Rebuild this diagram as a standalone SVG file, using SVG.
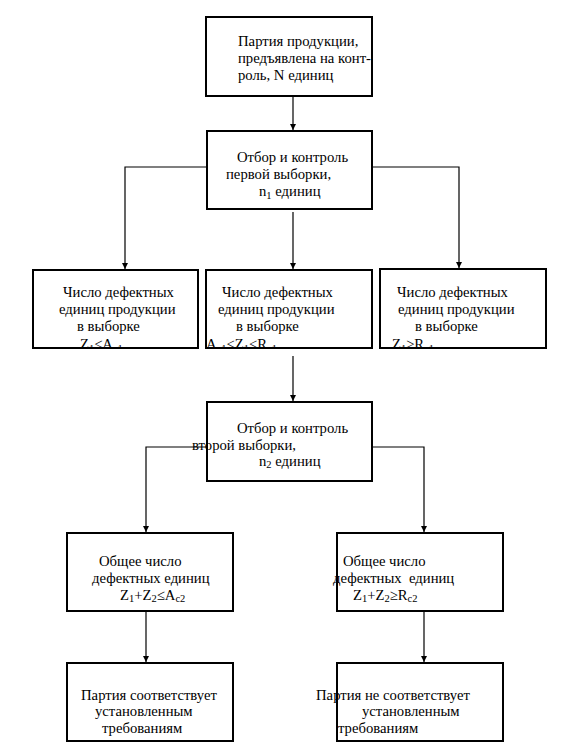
<svg xmlns="http://www.w3.org/2000/svg" width="561" height="752" viewBox="0 0 561 752">
<style>
.box{fill:none;stroke:#000;stroke-width:2}
.t{font-family:'Liberation Serif','DejaVu Serif',serif;font-size:14.7px;fill:#000}
.s{font-size:10.5px}
.c{fill:none;stroke:#000;stroke-width:1.2;marker-end:url(#ah)}
</style>
<defs>
<marker id="ah" markerWidth="8" markerHeight="8" refX="6" refY="3" orient="auto" markerUnits="userSpaceOnUse">
<path d="M0,0 L6,3 L0,6 Z" fill="#000"/>
</marker>
<clipPath id="clipRow"><rect x="0" y="0" width="561" height="348"/></clipPath>
</defs>
<rect width="561" height="752" fill="#fff"/>
<g id="connectors">
<path class="c" d="M293,96 V130"/>
<path class="c" d="M207,167 H125 V269"/>
<path class="c" d="M372,167 H459 V268"/>
<path class="c" d="M293,212 V269"/>
<path class="c" d="M293,356 V401"/>
<path class="c" d="M207,447 H146 V532"/>
<path class="c" d="M372,447 H424 V532"/>
<path class="c" d="M146,611 V662"/>
<path class="c" d="M424,611 V662"/>
</g>
<g id="n1">
<rect class="box" x="206" y="17" width="166" height="79"/>
<text class="t" x="238" y="46">Партия продукции,</text>
<text class="t" x="238" y="63">предъявлена на конт-</text>
<text class="t" x="238" y="80">роль, N единиц</text>
</g>
<g id="n2">
<rect class="box" x="207" y="131" width="165" height="78"/>
<text class="t" x="237" y="162">Отбор и контроль</text>
<text class="t" x="226" y="179">первой выборки,</text>
<text class="t" x="259" y="196">n<tspan class="s" dy="3">1</tspan><tspan dy="-3"> единиц</tspan></text>
</g>
<g id="n3">
<text class="t" x="63" y="297">Число дефектных</text>
<text class="t" x="59" y="314">единиц продукции</text>
<text class="t" x="77" y="331">в выборке</text>
<text class="t" x="80" y="349" clip-path="url(#clipRow)">Z<tspan class="s" dy="3">1</tspan><tspan dy="-3">≤A</tspan><tspan class="s" dy="3">c1</tspan></text>
<rect class="box" x="33" y="270" width="165" height="78"/>
</g>
<g id="n4">
<text class="t" x="222" y="297">Число дефектных</text>
<text class="t" x="218" y="314">единиц продукции</text>
<text class="t" x="236" y="331">в выборке</text>
<text class="t" x="206" y="349" clip-path="url(#clipRow)">A<tspan class="s" dy="3">c1</tspan><tspan dy="-3">&lt;Z</tspan><tspan class="s" dy="3">1</tspan><tspan dy="-3">&lt;R</tspan><tspan class="s" dy="3">c1</tspan></text>
<rect class="box" x="206" y="270" width="166" height="78"/>
</g>
<g id="n5">
<text class="t" x="397" y="297">Число дефектных</text>
<text class="t" x="398" y="314">единиц продукции</text>
<text class="t" x="415" y="331">в выборке</text>
<text class="t" x="392" y="349" clip-path="url(#clipRow)">Z<tspan class="s" dy="3">1</tspan><tspan dy="-3">≥R</tspan><tspan class="s" dy="3">c1</tspan></text>
<rect class="box" x="380" y="269" width="166" height="79"/>
</g>
<g id="n6">
<rect class="box" x="207" y="402" width="165" height="79"/>
<text class="t" x="237" y="433">Отбор и контроль</text>
<text class="t" x="192" y="450">второй выборки,</text>
<text class="t" x="259" y="466">n<tspan class="s" dy="2">2</tspan><tspan dy="-2"> единиц</tspan></text>
</g>
<g id="n7">
<rect class="box" x="67" y="533" width="166" height="78"/>
<text class="t" x="99" y="566">Общее число</text>
<text class="t" x="92" y="583">дефектных единиц</text>
<text class="t" x="120" y="600">Z<tspan class="s" dy="2">1</tspan><tspan dy="-2">+Z</tspan><tspan class="s" dy="2">2</tspan><tspan dy="-2">≤A</tspan><tspan class="s" dy="2">c2</tspan></text>
</g>
<g id="n8">
<rect class="box" x="337" y="533" width="166" height="78"/>
<text class="t" x="343" y="566">Общее число</text>
<text class="t" x="333" y="583" xml:space="preserve">дефектных  единиц</text>
<text class="t" x="353" y="600">Z<tspan class="s" dy="2">1</tspan><tspan dy="-2">+Z</tspan><tspan class="s" dy="2">2</tspan><tspan dy="-2">≥R</tspan><tspan class="s" dy="2">c2</tspan></text>
</g>
<g id="n9">
<rect class="box" x="67" y="663" width="166" height="78"/>
<text class="t" x="81" y="700">Партия соответствует</text>
<text class="t" x="95" y="716">установленным</text>
<text class="t" x="102" y="733">требованиям</text>
</g>
<g id="n10">
<rect class="box" x="337" y="663" width="166" height="78"/>
<text class="t" x="316" y="700">Партия не соответствует</text>
<text class="t" x="362" y="716">установленным</text>
<text class="t" x="338" y="733">требованиям</text>
</g>
</svg>
